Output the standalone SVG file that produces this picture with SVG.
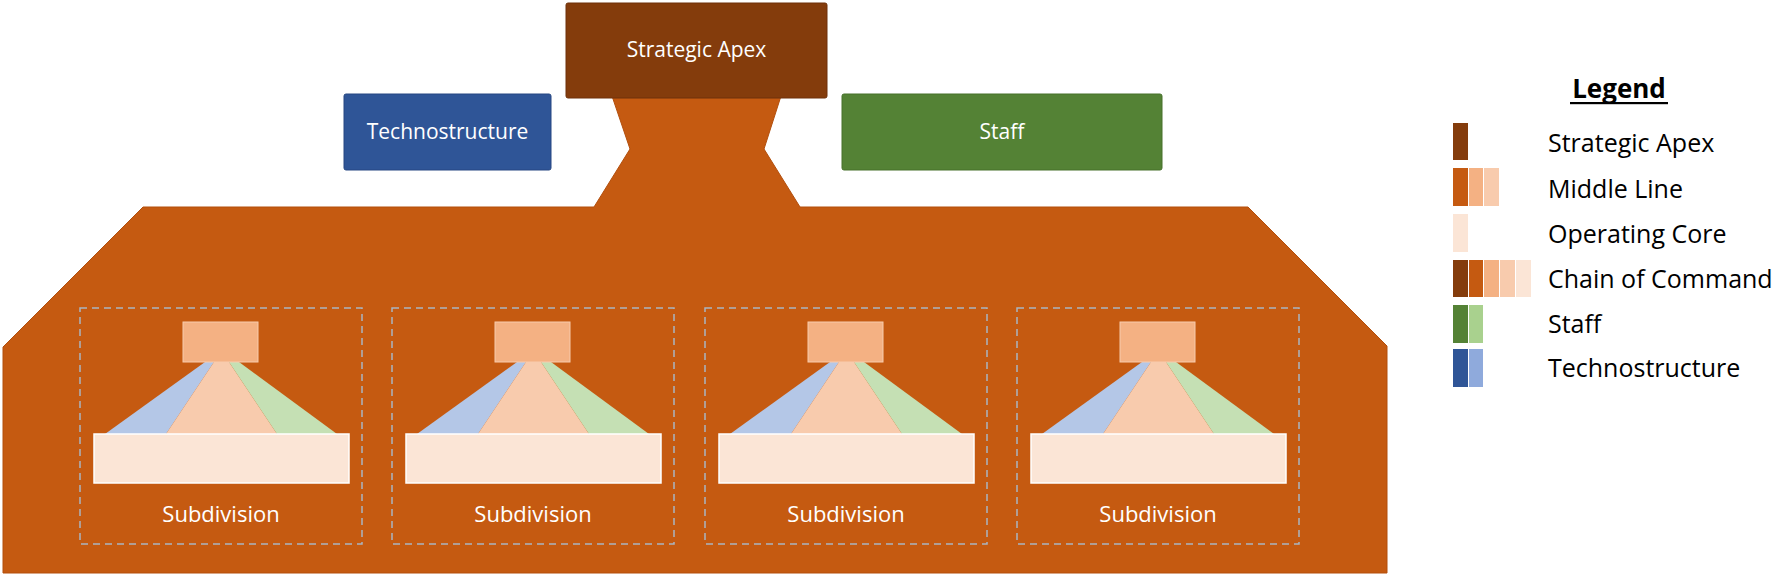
<svg xmlns="http://www.w3.org/2000/svg" width="1772" height="578" viewBox="0 0 1772 578">
<style>
.lbl{font-family:"Open Sans","Liberation Sans",sans-serif;fill:#ffffff;text-anchor:middle}
.top{font-size:21px}
.sub{font-size:22px}
.leg{font-family:"Open Sans","Liberation Sans",sans-serif;font-size:25px;fill:#000000}
.dash{fill:none;stroke:#A9B5C2;stroke-width:1.5;stroke-dasharray:7 5}
.mid{fill:#F4B183;stroke:#F8CBAD;stroke-width:1}
.core{fill:#FBE5D6;stroke:#ffffff;stroke-width:1.5}
.sw{stroke:none}
</style>
<rect width="1772" height="578" fill="#ffffff"/>

<g id="organization-body">
<polygon points="3,347 143,207 594,207 630,149 612,96 781,96 764,149 800,207 1248,207 1387,346 1387,573 3,573" fill="#C55A11" stroke="#B34F0D" stroke-width="1"/>
</g>

<g id="strategic-apex">
<rect x="566" y="3" width="261" height="95" rx="2" fill="#843C0C" stroke="#6E310A" stroke-width="1"/>
<text class="lbl top" x="696.5" y="57">Strategic Apex</text>
</g>

<g id="technostructure">
<rect x="344" y="94" width="207" height="76" rx="2" fill="#2F5597" stroke="#264782" stroke-width="1"/>
<text class="lbl top" x="447.5" y="139">Technostructure</text>
</g>

<g id="staff">
<rect x="842" y="94" width="320" height="76" rx="2" fill="#548235" stroke="#46702B" stroke-width="1"/>
<text class="lbl top" x="1002" y="139">Staff</text>
</g>

<g id="subdivision-1">
<rect class="dash" x="80" y="308" width="282" height="236"/>
<polygon points="205,362 214,362 166,434 105,434" fill="#B4C7E7"/>
<polygon points="214,362 229,362 277,434 166,434" fill="#F8CBAD"/>
<polygon points="229,362 239,362 337,434 277,434" fill="#C5E0B4"/>
<rect class="mid" x="183" y="322" width="75" height="40"/>
<rect class="core" x="94" y="434" width="255" height="49"/>
<text class="lbl sub" x="221" y="522">Subdivision</text>
</g>

<g id="subdivision-2" transform="translate(312,0)">
<rect class="dash" x="80" y="308" width="282" height="236"/>
<polygon points="205,362 214,362 166,434 105,434" fill="#B4C7E7"/>
<polygon points="214,362 229,362 277,434 166,434" fill="#F8CBAD"/>
<polygon points="229,362 239,362 337,434 277,434" fill="#C5E0B4"/>
<rect class="mid" x="183" y="322" width="75" height="40"/>
<rect class="core" x="94" y="434" width="255" height="49"/>
<text class="lbl sub" x="221" y="522">Subdivision</text>
</g>

<g id="subdivision-3" transform="translate(625,0)">
<rect class="dash" x="80" y="308" width="282" height="236"/>
<polygon points="205,362 214,362 166,434 105,434" fill="#B4C7E7"/>
<polygon points="214,362 229,362 277,434 166,434" fill="#F8CBAD"/>
<polygon points="229,362 239,362 337,434 277,434" fill="#C5E0B4"/>
<rect class="mid" x="183" y="322" width="75" height="40"/>
<rect class="core" x="94" y="434" width="255" height="49"/>
<text class="lbl sub" x="221" y="522">Subdivision</text>
</g>

<g id="subdivision-4" transform="translate(937,0)">
<rect class="dash" x="80" y="308" width="282" height="236"/>
<polygon points="205,362 214,362 166,434 105,434" fill="#B4C7E7"/>
<polygon points="214,362 229,362 277,434 166,434" fill="#F8CBAD"/>
<polygon points="229,362 239,362 337,434 277,434" fill="#C5E0B4"/>
<rect class="mid" x="183" y="322" width="75" height="40"/>
<rect class="core" x="94" y="434" width="255" height="49"/>
<text class="lbl sub" x="221" y="522">Subdivision</text>
</g>

<g id="legend">
<text x="1619" y="98" font-family="'Open Sans','Liberation Sans',sans-serif" font-size="26" font-weight="bold" fill="#000000" text-anchor="middle">Legend</text>
<rect x="1570" y="102" width="98" height="2.2" fill="#000000"/>

<rect class="sw" x="1453" y="123" width="15" height="37" fill="#843C0C"/>
<text class="leg" x="1548" y="152">Strategic Apex</text>

<rect class="sw" x="1453" y="168" width="15" height="38" fill="#C55A11"/>
<rect class="sw" x="1469" y="168" width="14" height="38" fill="#F4B183"/>
<rect class="sw" x="1484" y="168" width="15" height="38" fill="#F8CBAD"/>
<text class="leg" x="1548" y="198">Middle Line</text>

<rect class="sw" x="1453" y="214" width="15" height="38" fill="#FBE5D6"/>
<text class="leg" x="1548" y="243">Operating Core</text>

<rect class="sw" x="1453" y="260" width="15" height="37" fill="#843C0C"/>
<rect class="sw" x="1469" y="260" width="14" height="37" fill="#C55A11"/>
<rect class="sw" x="1484" y="260" width="15" height="37" fill="#F4B183"/>
<rect class="sw" x="1500" y="260" width="15" height="37" fill="#F8CBAD"/>
<rect class="sw" x="1516" y="260" width="15" height="37" fill="#FBE5D6"/>
<text class="leg" x="1548" y="288">Chain of Command</text>

<rect class="sw" x="1453" y="305" width="15" height="38" fill="#548235"/>
<rect class="sw" x="1469" y="305" width="14" height="38" fill="#A9D18E"/>
<text class="leg" x="1548" y="333">Staff</text>

<rect class="sw" x="1453" y="349" width="15" height="38" fill="#2F5597"/>
<rect class="sw" x="1469" y="349" width="14" height="38" fill="#8FAADC"/>
<text class="leg" x="1548" y="377">Technostructure</text>
</g>
</svg>
